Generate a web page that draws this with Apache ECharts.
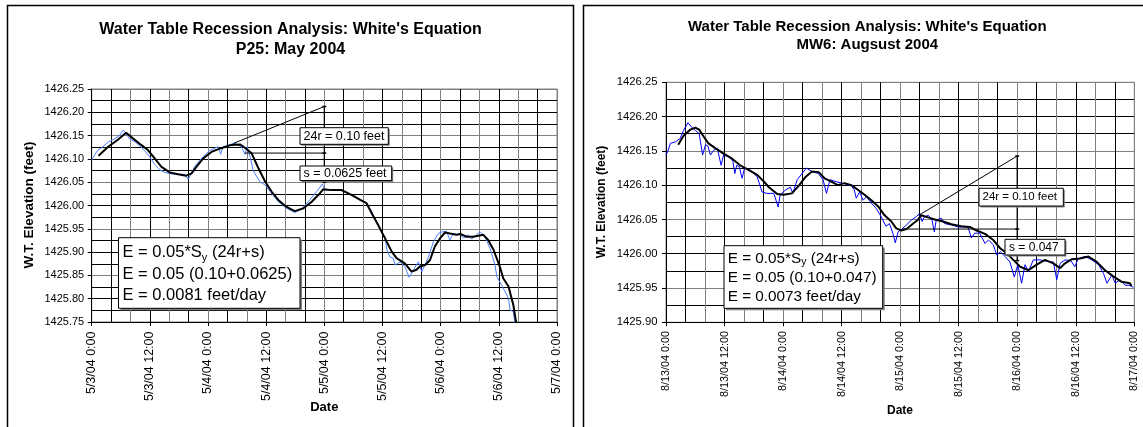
<!DOCTYPE html>
<html>
<head>
<meta charset="utf-8">
<script src="https://cdn.jsdelivr.net/npm/echarts@6/dist/echarts.min.js"></script>
<style>
html,body{margin:0;padding:0;background:#fff;}
#c{width:1143px;height:427px;}
</style>
</head>
<body>
<div id="c"></div>
<script>
// ---------- DATA (hours since start of record, water-table elevation in feet) ----------
const leftXLabels = ['5/3/04 0:00','5/3/04 12:00','5/4/04 0:00','5/4/04 12:00','5/5/04 0:00','5/5/04 12:00','5/6/04 0:00','5/6/04 12:00','5/7/04 0:00'];
const rightXLabels = ['8/13/04 0:00','8/13/04 12:00','8/14/04 0:00','8/14/04 12:00','8/15/04 0:00','8/15/04 12:00','8/16/04 0:00','8/16/04 12:00','8/17/04 0:00'];

const leftTitle = "Water Table Recession Analysis: White's Equation\nP25: May 2004";
const rightTitle = "Water Table Recession Analysis: White's Equation\nMW6: Augsust 2004";

const leftBlue = [[0,1426.098],[0.7,1426.11],[1.3,1426.119],[2.3,1426.126],[3.4,1426.136],[4.7,1426.143],[5.8,1426.151],[6.5,1426.162],[6.9,1426.157],[7.8,1426.143],[8.9,1426.137],[9.9,1426.128],[10.9,1426.118],[12,1426.104],[13,1426.088],[14,1426.077],[15.1,1426.071],[16.4,1426.068],[17.8,1426.067],[19.2,1426.067],[19.9,1426.056],[20.6,1426.069],[21.2,1426.083],[22.3,1426.097],[23.3,1426.107],[24.3,1426.118],[25.4,1426.123],[26.1,1426.126],[26.6,1426.11],[27.1,1426.126],[28.1,1426.129],[29.5,1426.134],[30.5,1426.128],[31,1426.124],[31.6,1426.11],[32.1,1426.126],[32.8,1426.1],[33.3,1426.075],[34.7,1426.051],[35.8,1426.044],[36.8,1426.03],[38.5,1426.008],[40.2,1425.994],[41.9,1425.985],[43.3,1425.992],[45,1426.012],[46.4,1426.03],[47.6,1426.046],[48.1,1426.033],[50.9,1426.034],[52.9,1426.026],[55,1426.015],[56.4,1426.008],[57.4,1425.994],[58.8,1425.965],[59.8,1425.944],[60.5,1425.933],[60.9,1425.905],[61.5,1425.89],[62.2,1425.887],[62.6,1425.872],[63.6,1425.879],[64.6,1425.869],[65.5,1425.846],[66.4,1425.862],[67.4,1425.879],[68.1,1425.858],[68.6,1425.869],[69.4,1425.887],[70.5,1425.922],[71.5,1425.94],[72.5,1425.944],[73.2,1425.945],[73.9,1425.926],[74.6,1425.94],[76,1425.938],[76.7,1425.93],[77.7,1425.937],[78.4,1425.928],[79.4,1425.937],[80.1,1425.944],[81.1,1425.933],[82.2,1425.908],[83.2,1425.872],[83.6,1425.847],[84.2,1425.836],[85.3,1425.815],[86,1425.8],[86.3,1425.776],[87,1425.772],[87.4,1425.74]];

const leftBlack = [[1.4,1426.107],[3.4,1426.126],[5.4,1426.141],[7.1,1426.156],[8.5,1426.144],[10.2,1426.13],[11.6,1426.119],[13,1426.101],[14.4,1426.083],[16.1,1426.071],[17.8,1426.067],[19.5,1426.064],[20.6,1426.069],[21.6,1426.083],[23,1426.101],[24.7,1426.115],[26.7,1426.123],[28.8,1426.13],[29.2,1426.133],[30.6,1426.131],[31.6,1426.124],[33,1426.112],[34.4,1426.08],[35.8,1426.051],[37.1,1426.03],[38.5,1426.012],[40.2,1425.997],[41.9,1425.988],[43.7,1425.994],[45.4,1426.008],[46.8,1426.023],[47.8,1426.035],[49.5,1426.033],[51.6,1426.033],[53.6,1426.023],[55.4,1426.012],[56.7,1426.005],[57.8,1425.983],[59.1,1425.958],[60.5,1425.93],[61.9,1425.901],[62.9,1425.887],[64.6,1425.876],[65,1425.876],[66,1425.858],[67,1425.862],[67.7,1425.869],[68.8,1425.872],[69.8,1425.883],[70.8,1425.912],[71.9,1425.93],[72.9,1425.942],[73.9,1425.94],[75.3,1425.937],[76,1425.939],[77.4,1425.933],[78.7,1425.933],[80.8,1425.937],[81.8,1425.926],[82.9,1425.905],[84.2,1425.869],[84.9,1425.844],[86,1425.826],[87,1425.786],[87.7,1425.74]];

const rightBlue = [[0,1426.144],[0.4,1426.15],[0.9,1426.161],[1.9,1426.163],[2.9,1426.168],[3.6,1426.18],[4.5,1426.191],[5.2,1426.185],[6,1426.18],[6.8,1426.175],[7.5,1426.144],[8.1,1426.159],[8.6,1426.157],[9.1,1426.144],[9.8,1426.151],[10.5,1426.154],[11.3,1426.129],[11.8,1426.144],[12.9,1426.141],[13.7,1426.135],[14.1,1426.117],[14.5,1426.129],[15,1426.127],[15.6,1426.11],[16.1,1426.125],[17.3,1426.122],[18.7,1426.112],[19.7,1426.09],[20.7,1426.088],[22.1,1426.088],[23,1426.068],[23.4,1426.086],[24.5,1426.093],[25.5,1426.097],[26,1426.088],[26.9,1426.108],[27.9,1426.117],[28.8,1426.125],[29.9,1426.12],[31.2,1426.117],[32.2,1426.108],[32.9,1426.088],[33.6,1426.108],[34.9,1426.105],[36.6,1426.102],[38,1426.099],[38.6,1426.093],[39,1426.081],[39.7,1426.09],[40.4,1426.078],[41.1,1426.083],[42.1,1426.074],[43.1,1426.066],[44.1,1426.054],[45.1,1426.04],[45.8,1426.044],[46.5,1426.03],[47,1426.016],[47.6,1426.032],[48.2,1426.035],[49.3,1426.042],[50.3,1426.049],[51.3,1426.054],[52,1426.059],[52.5,1426.047],[53,1426.054],[53.8,1426.056],[54.5,1426.05],[55,1426.032],[55.4,1426.049],[56.4,1426.052],[57.1,1426.044],[58.5,1426.042],[59.9,1426.039],[61.9,1426.039],[62.6,1426.023],[63.3,1426.03],[64.3,1426.03],[65.4,1426.015],[66.1,1426.02],[67.1,1426.013],[67.8,1425.998],[68.5,1426.003],[69.5,1425.996],[70.5,1425.988],[71.4,1425.966],[72.1,1425.984],[72.9,1425.957],[73.6,1425.984],[74.3,1425.974],[75.3,1425.991],[76.7,1425.991],[78,1425.989],[79.4,1425.988],[80.1,1425.962],[80.8,1425.986],[81.8,1425.991],[83,1425.99],[83.8,1425.981],[84.5,1425.993],[85.9,1425.996],[87.3,1425.991],[88.7,1425.984],[89.7,1425.971],[90.4,1425.957],[91.4,1425.969],[92.1,1425.957],[93.1,1425.962],[94.1,1425.954],[95.1,1425.954],[95.8,1425.951]];

const rightBlack = [[2.5,1426.159],[3.6,1426.172],[5,1426.181],[6,1426.184],[6.8,1426.181],[7.7,1426.171],[8.7,1426.161],[10.1,1426.154],[11.8,1426.146],[13.5,1426.139],[15.2,1426.129],[17,1426.122],[18.7,1426.115],[20.1,1426.105],[21.1,1426.097],[22.8,1426.087],[24.1,1426.086],[25.8,1426.088],[27.2,1426.099],[28.6,1426.112],[29.9,1426.12],[31.3,1426.119],[32.5,1426.11],[33.9,1426.105],[35.2,1426.1],[36.6,1426.103],[38,1426.1],[39.4,1426.093],[40.7,1426.086],[42.1,1426.078],[43.5,1426.069],[44.8,1426.056],[46.2,1426.047],[47.2,1426.037],[48.2,1426.034],[49.3,1426.036],[50.3,1426.042],[51.7,1426.05],[52.3,1426.056],[53.7,1426.053],[55.1,1426.05],[56.8,1426.047],[58.5,1426.043],[60.5,1426.04],[62.3,1426.039],[63.3,1426.035],[65.4,1426.029],[67.1,1426.02],[68.5,1426.008],[69.8,1426.001],[71.2,1425.991],[72.6,1425.981],[74.3,1425.976],[76,1425.984],[77.7,1425.991],[79.4,1425.986],[80.8,1425.979],[81.8,1425.986],[83.2,1425.992],[84.9,1425.993],[86.6,1425.996],[88.3,1425.988],[90,1425.976],[91.7,1425.967],[93.4,1425.959],[95.1,1425.957],[95.4,1425.953]];

// White's-method construction lines
const leftSlopeLine = [[29.2,1426.133],[48,1426.2125]];
const leftVertLine = [[48,1426.2125],[48,1426.1125],[48,1426.05]];
const leftHorizLine = [[31.6,1426.1125],[48,1426.1125]];
const rightSlopeLine = [[51.8,1426.056],[72,1426.1425]];
const rightVertLine = [[72,1426.1425],[72,1426.036],[72,1425.99]];
const rightHorizLine = [[48.5,1426.036],[72,1426.036]];

const leftBoxLabels = ['24r = 0.10 feet','s = 0.0625 feet'];
const rightBoxLabels = ['24r = 0.10 feet','s = 0.047'];
const leftEquation = 'E = 0.05*S{sub|y} (24r+s)\nE = 0.05 (0.10+0.0625)\nE = 0.0081 feet/day';
const rightEquation = 'E = 0.05*S{sub|y} (24r+s)\nE = 0.05 (0.10+0.047)\nE = 0.0073 feet/day';

// ---------- CHART ----------
const FONT = "'Liberation Sans', Arial, Helvetica, sans-serif";
const chart = echarts.init(document.getElementById('c'), null, {renderer:'canvas'});

function gridXAxis(gi){
  return {type:'value', gridIndex:gi, position:'bottom', min:0, max:96, interval:4,
    axisLine:{show:false}, axisTick:{show:false}, axisLabel:{show:false},
    splitLine:{show:true, lineStyle:{color:['#808080','#000000'], width:1}}};
}
function labelXAxis(gi, labels, fs, margin){
  return {type:'value', gridIndex:gi, position:'bottom', offset:0, min:0, max:96, interval:12,
    axisLine:{show:true, onZero:false, lineStyle:{color:'#000', width:1}},
    axisTick:{show:true, length:4, lineStyle:{color:'#000'}},
    splitLine:{show:false},
    axisLabel:{rotate:90, margin:margin, fontSize:fs, fontFamily:FONT, color:'#000',
      formatter:v=>labels[Math.round(v/12)] || ''}};
}
function gridYAxis(gi, min, max, colors){
  return {type:'value', gridIndex:gi, position:'left', min:min, max:max, interval:0.025,
    axisLine:{show:false}, axisTick:{show:false}, axisLabel:{show:false},
    splitLine:{show:true, lineStyle:{color:colors, width:1}}};
}
function labelYAxis(gi, min, max, fs, margin){
  return {type:'value', gridIndex:gi, position:'left', offset:0, min:min, max:max, interval:0.05,
    axisLine:{show:true, onZero:false, lineStyle:{color:'#000', width:1}},
    axisTick:{show:true, length:4, lineStyle:{color:'#000'}},
    splitLine:{show:false},
    axisLabel:{margin:margin, fontSize:fs, fontFamily:FONT, color:'#000', formatter:v=>v.toFixed(2)}};
}
function lineSeries(xi, yi, data, color, width, extra){
  return Object.assign({type:'line', xAxisIndex:xi, yAxisIndex:yi, data:data, showSymbol:false,
    symbol:'none', lineStyle:{color:color, width:width}, silent:true, animation:false, clip:true, z:3}, extra||{});
}
function box(x,y,w,h,off){
  return [
    {type:'rect', shape:{x:x+off,y:y+off,width:w,height:h}, style:{fill:'#808080'}, z:50, silent:true},
    {type:'rect', shape:{x:x,y:y,width:w,height:h}, style:{fill:'#fff', stroke:'#000', lineWidth:1}, z:51, silent:true}
  ];
}
function txt(x,y,text,fs,opts){
  return Object.assign({type:'text', x:x, y:y, z:52, silent:true,
    style:Object.assign({text:text, fontSize:fs, fontFamily:FONT, fill:'#000', textAlign:'left', textVerticalAlign:'middle'}, (opts&&opts.style)||{})},
    opts&&opts.el||{});
}

const graphics = [
  {type:'rect', shape:{x:7.5,y:5.5,width:566,height:440}, style:{fill:'none', stroke:'#000', lineWidth:1.5}, z:60, silent:true},
  {type:'rect', shape:{x:583.5,y:5.5,width:580,height:440}, style:{fill:'none', stroke:'#000', lineWidth:1.5}, z:60, silent:true},
  // axis titles
  txt(29.5,205,'W.T. Elevation (feet)',13.5,{style:{fontWeight:'bold', textAlign:'center'}, el:{rotation:Math.PI/2}}),
  txt(601.5,202,'W.T. Elevation (feet)',12,{style:{fontWeight:'bold', textAlign:'center'}, el:{rotation:Math.PI/2}}),
  txt(324.3,407.5,'Date',13,{style:{fontWeight:'bold', textAlign:'center'}}),
  txt(900,410.5,'Date',12,{style:{fontWeight:'bold', textAlign:'center'}}),
  // left annotation boxes
  ...box(300,127.7,88.3,16.6,1.5),
  txt(303.5,136.2,leftBoxLabels[0],12.5),
  ...box(300,166,91.7,14.5,1.5),
  txt(303.5,173.5,leftBoxLabels[1],12.5),
  ...box(118.5,237.7,181.5,70.6,2),
  {type:'text', x:122.5, y:241.5, z:52, silent:true, style:{text:leftEquation, fontSize:16.5, lineHeight:21.7, fontFamily:FONT, fill:'#000', textAlign:'left', textVerticalAlign:'top',
    rich:{sub:{fontSize:11, lineHeight:13, fontFamily:FONT, fill:'#000', verticalAlign:'bottom'}}}},
  // right annotation boxes
  ...box(979,188.3,84.3,17.7,1.5),
  txt(982.5,197.2,rightBoxLabels[0],11.5),
  ...box(1005,239.3,60,15.7,1.5),
  txt(1009,247.2,rightBoxLabels[1],12),
  ...box(724,245.7,158.7,62.6,2),
  {type:'text', x:727.7, y:248.8, z:52, silent:true, style:{text:rightEquation, fontSize:15.3, lineHeight:19, fontFamily:FONT, fill:'#000', textAlign:'left', textVerticalAlign:'top',
    rich:{sub:{fontSize:10.5, lineHeight:12, fontFamily:FONT, fill:'#000', verticalAlign:'bottom'}}}}
];

const option = {
  backgroundColor:'#fff',
  animation:false,
  title:[
    {text:leftTitle, left:290.5, top:19, textAlign:'center', padding:0,
      textStyle:{fontSize:16, fontWeight:'bold', fontFamily:FONT, color:'#000', lineHeight:20.7}},
    {text:rightTitle, left:867.3, top:17.5, textAlign:'center', padding:0,
      textStyle:{fontSize:15, fontWeight:'bold', fontFamily:FONT, color:'#000', lineHeight:18.3}}
  ],
  grid:[
    {left:91.7, top:89, width:465.3, height:233, show:true, borderColor:'#808080', borderWidth:1, backgroundColor:'#fff'},
    {left:666, top:82.3, width:468.3, height:240, show:true, borderColor:'#808080', borderWidth:1, backgroundColor:'#fff'}
  ],
  xAxis:[gridXAxis(0), labelXAxis(0,leftXLabels,12.5,9.5), gridXAxis(1), labelXAxis(1,rightXLabels,10.8,8.7)],
  yAxis:[
    gridYAxis(0,1425.75,1426.25,['#808080','#000000','#000000','#000000']),
    labelYAxis(0,1425.75,1426.25,11,7.5),
    gridYAxis(1,1425.90,1426.25,['#000000','#000000','#808080','#000000']),
    labelYAxis(1,1425.90,1426.25,11.3,8.5)
  ],
  series:[
    lineSeries(0,0,leftBlue,'#4a80ff',1),
    lineSeries(0,0,leftBlack,'#000',2),
    lineSeries(0,0,leftSlopeLine,'#000',1),
    lineSeries(0,0,leftVertLine,'#000',1.3,{showSymbol:true, symbol:'rect', symbolSize:[4,1.5], itemStyle:{color:'#000'}}),
    lineSeries(0,0,leftHorizLine,'#000',1),
    lineSeries(2,2,rightBlue,'#0000ff',1),
    lineSeries(2,2,rightBlack,'#000',2),
    lineSeries(2,2,rightSlopeLine,'#000',1),
    lineSeries(2,2,rightVertLine,'#000',1.3,{showSymbol:true, symbol:'rect', symbolSize:[4,1.5], itemStyle:{color:'#000'}}),
    lineSeries(2,2,rightHorizLine,'#000',1)
  ],
  graphic:graphics
};
chart.setOption(option);
</script>
</body>
</html>
